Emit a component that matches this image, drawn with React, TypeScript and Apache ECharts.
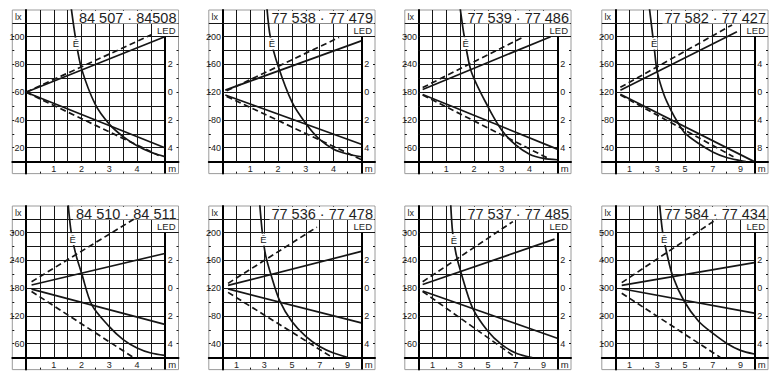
import React, { useEffect, useRef } from 'react';
import * as echarts from 'echarts';

// ---------- data ----------
const titles = [
  '84 507 · 84508',
  '77 538 · 77 479',
  '77 539 · 77 486',
  '77 582 · 77 427',
  '84 510 · 84 511',
  '77 536 · 77 478',
  '77 537 · 77 485',
  '77 584 · 77 434',
];
const xMaxes = [5, 5, 5, 10, 5, 10, 10, 10];
const xLabelsShort = [1, 2, 3, 4];
const xLabelsLong = [1, 3, 5, 7, 9];
const xTickLabels = [xLabelsShort, xLabelsShort, xLabelsShort, xLabelsLong, xLabelsShort, xLabelsLong, xLabelsLong, xLabelsLong];
const yBottoms = [10, 20, 30, 20, 30, 20, 30, 50];
const ySteps = [10, 20, 30, 20, 30, 20, 30, 50];
const yTickLabels = [
  [20, 40, 60, 80, 100],
  [40, 80, 120, 160, 200],
  [60, 120, 180, 240, 300],
  [40, 80, 120, 160, 200],
  [60, 120, 180, 240, 300],
  [40, 80, 120, 160, 200],
  [60, 120, 180, 240, 300],
  [100, 200, 300, 400, 500],
];
const rightZeros = [60, 120, 180, 120, 180, 120, 180, 300];
const rightSteps = [2, 2, 2, 4, 2, 2, 2, 2];
const rightTickLabels = [
  [2, 0, -2, -4],
  [2, 0, -2, -4],
  [2, 0, -2, -4],
  [4, 0, -4, -8],
  [2, 0, -2, -4],
  [2, 0, -2, -4],
  [2, 0, -2, -4],
  [2, 0, -2, -4],
];

const solidUpper = [
  [[0, 60], [5, 100]],
  [[0.1, 123], [5, 194]],
  [[0.15, 186], [4.76, 300]],
  [[0.35, 123], [8.75, 207]],
  [[0.2, 187], [5, 255]],
  [[0.4, 124], [10, 173]],
  [[0.3, 188], [9.8, 286]],
  [[0.45, 310], [10, 392]],
];
const solidLower = [
  [[0, 60], [5, 20]],
  [[0.1, 116], [5, 45]],
  [[0.15, 175], [5, 57]],
  [[0.35, 117], [10, 20]],
  [[0.2, 178], [5, 102]],
  [[0.4, 119], [10, 70]],
  [[0.3, 174], [10, 72]],
  [[0.45, 298], [10, 210]],
];
const dashedUpper = [
  [[0, 60], [4.53, 101.5]],
  [[0.15, 122], [4.2, 199]],
  [[0.15, 190], [3.8, 300]],
  [[0.35, 127], [8.4, 217]],
  [[0.2, 194], [3.88, 329]],
  [[0.4, 127], [6.8, 208]],
  [[0.3, 194], [6.8, 324]],
  [[0.45, 320], [7.3, 549]],
];
const dashedLower = [
  [[0, 60], [4.78, 14.5]],
  [[0.15, 114], [5, 23]],
  [[0.15, 174], [4.74, 35]],
  [[0.35, 116], [8.5, 27]],
  [[0.2, 173], [3.88, 30]],
  [[0.4, 114], [7.9, 20.5]],
  [[0.3, 173], [7.0, 30.5]],
  [[0.45, 282], [7.55, 51]],
];
const eCurves = [
  [[1.62, 122], [1.8, 97], [2, 77], [2.5, 51], [3, 37], [3.5, 28], [4, 21.5], [4.5, 16.8], [5, 13.6]],
  [[1.6, 242], [1.72, 200], [2, 158], [2.5, 106], [3, 75], [3.5, 52], [4, 38], [4.5, 31], [5, 27]],
  [[1.5, 362], [1.65, 300], [1.9, 225], [2.5, 149], [3, 98], [3.5, 66], [4, 46], [4.5, 37], [5, 34]],
  [[2.45, 240], [2.62, 212], [2.8, 182], [3, 150], [3.5, 116], [4, 94], [4.5, 76], [5, 61], [6, 46], [7, 34], [8, 26], [9, 21.5], [9.4, 20]],
  [[1.52, 360], [1.63, 300], [1.8, 252], [2.01, 211], [2.37, 144], [3, 97], [3.5, 69], [4, 51], [4.5, 40], [5, 35]],
  [[2.68, 242], [2.87, 200], [3.1, 168], [3.5, 139], [4.14, 101], [5, 72], [6, 50.5], [7, 36], [8, 26.6], [9, 20.5]],
  [[2.32, 362], [2.46, 300], [2.7, 255], [3.06, 214], [3.9, 137], [5, 87], [6, 58], [7, 40], [8, 31], [8.2, 30]],
  [[3.18, 602], [3.4, 500], [3.7, 425], [4.12, 344], [4.94, 254], [6, 180], [7, 138], [8, 102], [9, 76], [10, 63]],
];
const eLabelPositions = [
  [1.8, 95], [1.78, 190], [1.7, 286], [2.78, 190],
  [1.68, 286], [2.94, 190], [2.55, 284], [3.5, 477],
];

// ---------- layout ----------
const COL_X0 = [26, 222.5, 418.5, 615.5];
const ROW_TOP = [36.7, 232.7];
const CELL = 13.88;
const STRIP_L = 13.7;
const STRIP_R = 13.7;
const STRIP_B = 12;
const TOP_EXTRA = 26.7;
const LABEL_FONT = '"Liberation Sans Narrow", "Arial Narrow", "Liberation Sans", Arial, sans-serif';
const MAIN_FONT = '"Liberation Sans", Arial, Helvetica, sans-serif';
const INK = '#161616';

function buildOption() {
  const grids: any[] = [];
  const xAxes: any[] = [];
  const yAxes: any[] = [];
  const series: any[] = [];
  const graphics: any[] = [];

  for (let i = 0; i < 8; i++) {
    const col = i % 4;
    const row = Math.floor(i / 4);
    const x0 = COL_X0[col];
    const topPx = ROW_TOP[row];
    const innerW = CELL * 10;
    const bottomPx = topPx + CELL * 9;
    const boxL = x0 - STRIP_L;
    const boxR = x0 + innerW + STRIP_R;
    const boxT = topPx - TOP_EXTRA;
    const boxB = bottomPx + STRIP_B;

    const xMax = xMaxes[i];
    const xStep = xMax / 10;
    const xpp = xStep / CELL;
    const yBot = yBottoms[i];
    const yStep = ySteps[i];
    const ypp = yStep / CELL;
    const yTop = yBot + 9 * yStep;
    const xMinD = -STRIP_L * xpp;
    const xMaxD = xMax + STRIP_R * xpp;
    const yMinD = yBot - STRIP_B * ypp;
    const yMaxD = yTop + TOP_EXTRA * ypp;

    grids.push({
      left: boxL, top: boxT, width: boxR - boxL, height: boxB - boxT,
      show: true, borderColor: '#9a9a9a', borderWidth: 1, backgroundColor: 'transparent',
      containLabel: false, outerBoundsMode: 'none',
    });

    xAxes.push({
      gridIndex: i, type: 'value', min: xMinD, max: xMaxD, position: 'bottom', offset: -STRIP_B,
      axisLine: { show: true, onZero: false, lineStyle: { color: '#000', width: 2 } },
      axisTick: { show: false }, splitLine: { show: false },
      axisLabel: { customValues: xTickLabels[i], margin: 2.5, fontSize: 9, color: '#222', fontFamily: LABEL_FONT },
    });

    yAxes.push({
      gridIndex: i, type: 'value', min: yMinD, max: yMaxD, position: 'left', offset: -STRIP_L,
      axisLine: { show: true, onZero: false, lineStyle: { color: '#000', width: 2 } },
      axisTick: { show: false }, splitLine: { show: false },
      axisLabel: { customValues: yTickLabels[i], margin: 1.5, fontSize: 9, color: '#222', fontFamily: LABEL_FONT },
    });

    const zero = rightZeros[i];
    const lxPerUnit = (2 * yStep) / rightSteps[i];
    yAxes.push({
      gridIndex: i, type: 'value', min: (yMinD - zero) / lxPerUnit, max: (yMaxD - zero) / lxPerUnit,
      position: 'right', offset: -STRIP_R,
      axisLine: { show: false, onZero: false },
      axisTick: { show: false }, splitLine: { show: false },
      axisLabel: {
        customValues: rightTickLabels[i], margin: 3, fontSize: 9, color: '#222', fontFamily: LABEL_FONT,
        formatter: (v: number) => String(Math.abs(Math.round(v))),
      },
    });

    // structural lines (grid lines, ticks) in data coordinates
    const lines: any[] = [];
    const seg = (a: number[], b: number[], style?: any) =>
      lines.push([{ coord: a, ...(style ? { lineStyle: style } : {}) }, { coord: b }]);
    for (let k = 1; k <= 9; k++) seg([k * xStep, yBot], [k * xStep, yMaxD]);
    for (let j = 1; j <= 8; j++) seg([0, yBot + j * yStep], [xMax, yBot + j * yStep]);
    seg([0, yTop], [xMaxD, yTop]);
    seg([xMinD, yTop + yStep], [xMaxD, yTop + yStep]);
    seg([xMax, yTop], [xMax, yMinD], { color: '#000', width: 2 });
    for (let j = 1; j <= 9; j++) {
      const y = yBot + j * yStep;
      seg([xMinD, y], [xMinD + 2 * xpp, y]);
      seg([xMaxD - 2 * xpp, y], [xMaxD, y]);
    }
    for (let k = 1; k <= 9; k++) {
      const x = k * xStep;
      if (xTickLabels[i].indexOf(x) === -1) seg([x, yMinD], [x, yMinD + 2 * ypp]);
    }

    series.push({
      type: 'line', xAxisIndex: i, yAxisIndex: 2 * i, data: [], silent: true, z: 1,
      markLine: {
        silent: true, z: 1, symbol: ['none', 'none'], label: { show: false },
        lineStyle: { color: INK, width: 1, type: 'solid' }, emphasis: { disabled: true },
        animation: false, data: lines,
      },
    });

    const lineSeries = (data: number[][], dashed: boolean) => ({
      type: 'line', xAxisIndex: i, yAxisIndex: 2 * i, data, symbol: 'none', showSymbol: false,
      silent: true, z: 3, clip: true,
      lineStyle: { color: INK, width: 1.7, type: dashed ? [6, 3.5] : 'solid', cap: 'butt' },
    });
    series.push(lineSeries(solidUpper[i], false));
    series.push(lineSeries(solidLower[i], false));
    series.push(lineSeries(dashedUpper[i], true));
    series.push(lineSeries(dashedLower[i], true));
    series.push({
      ...lineSeries(eCurves[i], false),
      smooth: 0.3,
      markPoint: {
        silent: true, z: 6, animation: false,
        data: [{
          coord: eLabelPositions[i], symbol: 'rect', symbolSize: [7, 12],
          itemStyle: { color: '#fff' },
          label: { show: true, position: 'inside', formatter: 'Ē', fontSize: 9.5, color: INK, fontFamily: MAIN_FONT },
        }],
      },
    });

    // title area and texts
    const rectX = x0 + 47;
    graphics.push({
      type: 'rect', z: 2, silent: true,
      shape: { x: rectX, y: boxT + 0.8, width: boxR - 0.8 - rectX, height: topPx - CELL - (boxT + 0.8) + 0.7 },
      style: { fill: '#fff' },
    });
    graphics.push({
      type: 'text', z: 4, silent: true, x: boxR - 2, y: boxT + 0.5,
      style: {
        text: titles[i], fill: '#1e1e1e', fontSize: 14.5, fontFamily: MAIN_FONT,
        align: 'right', verticalAlign: 'top', textAlign: 'right', textVerticalAlign: 'top',
      },
    });
    graphics.push({
      type: 'text', z: 4, silent: true, x: boxR - 2, y: topPx - 1.2,
      style: {
        text: 'LED', fill: '#1e1e1e', fontSize: 9.5, fontFamily: MAIN_FONT, backgroundColor: '#fff',
        padding: [0, 1, 0, 1],
        align: 'right', verticalAlign: 'bottom', textAlign: 'right', textVerticalAlign: 'bottom',
      },
    });
    graphics.push({
      type: 'text', z: 4, silent: true, x: boxL + 2.7, y: boxT + 2,
      style: {
        text: 'lx', fill: '#222', fontSize: 9, fontFamily: MAIN_FONT,
        align: 'left', verticalAlign: 'top', textAlign: 'left', textVerticalAlign: 'top',
      },
    });
    graphics.push({
      type: 'text', z: 4, silent: true, x: x0 + innerW + STRIP_R / 2 + 0.5, y: bottomPx + 6.5,
      style: {
        text: 'm', fill: '#222', fontSize: 9.5, fontFamily: MAIN_FONT,
        align: 'center', verticalAlign: 'middle', textAlign: 'center', textVerticalAlign: 'middle',
      },
    });
  }

  return {
    animation: false,
    backgroundColor: '#fff',
    grid: grids,
    xAxis: xAxes,
    yAxis: yAxes,
    series,
    graphic: { elements: graphics },
  };
}

export default function App() {
  const ref = useRef<HTMLDivElement>(null);
  useEffect(() => {
    if (!ref.current) return;
    const chart = echarts.init(ref.current, null, { renderer: 'svg' });
    chart.setOption(buildOption() as any);
    return () => chart.dispose();
  }, []);
  return (
    <div
      ref={ref}
      style={{ position: 'fixed', left: 0, top: 0, width: 772, height: 373, background: '#fff' }}
    />
  );
}
